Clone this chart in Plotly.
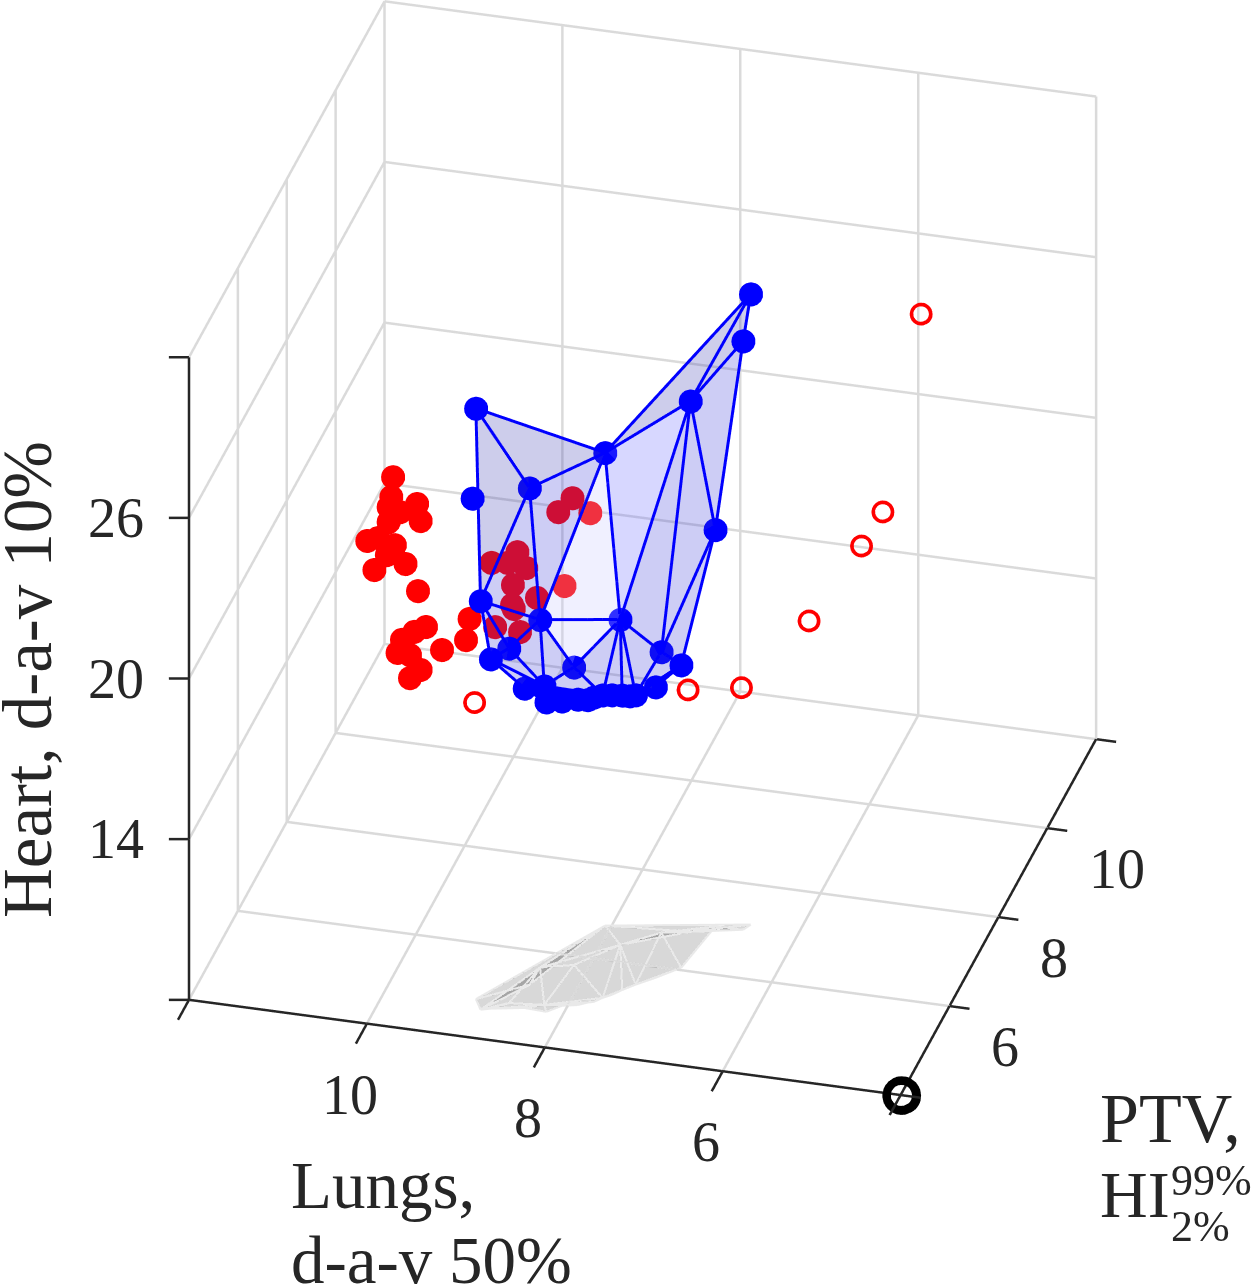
import plotly.graph_objects as go

# Pareto-front vertices (blue)
lungs = [6.55,6.60,7.14,8.07,9.00,8.52,9.02,6.91,8.89,8.51,7.80,8.17,7.44,7.03,8.63,8.79,7.24,8.25,8.44,8.19,8.06,7.90,7.81,7.75,7.68,7.60,7.52,7.46,7.41]
ptv   = [7.15,7.02,6.83,6.72,4.82,5.27,4.75,7.01,4.61,5.66,6.36,5.81,6.73,6.05,4.83,4.66,5.77,4.89,4.77,4.75,4.92,4.98,5.06,5.09,5.20,5.29,5.42,5.51,5.57]
heart = [31.55,29.99,27.82,25.66,30.06,26.55,26.81,22.82,23.27,20.99,20.15,19.12,18.49,19.31,21.25,21.06,18.86,19.91,19.94,19.57,19.38,19.42,19.31,19.38,19.31,19.20,19.01,18.86,18.82]

# triangles of the surface and their shade
tri_i = [0,3,4,0, 1,2,2,7,5,3, 2, 3,9, 8,8,9,9,10,11,10,10,12,13,14,15,17,17,17,17,17,17,24,26,10]
tri_j = [2,4,8,1, 2,7,10,12,8,5, 3, 9,10, 9,14,14,11,11,17,12,26,13,16,15,17,18,19,20,21,22,23,25,27,24]
tri_k = [3,5,5,2, 7,12,12,13,9,9, 10, 10,11, 14,15,17,17,24,24,28,28,28,28,17,18,19,20,21,22,23,24,26,28,26]
SLATE, MID, SKY, PALE = "rgb(55,55,175)", "rgb(55,55,215)", "rgb(95,95,255)", "rgb(195,195,255)"
tri_col = [SLATE]*4 + [MID]*6 + [SKY] + [PALE]*2 + [MID]*21

# Other plans (red, filled)
red_l = [10.67,10.69,10.72,10.40,10.59,10.36,10.72,10.96,10.84,10.65,10.74,10.53,10.88,10.39,10.30,10.43,10.57,10.62,10.48,10.12,10.36,10.48,9.81,9.85,
         8.79,8.95,8.59,9.70,9.41,9.52,9.31,9.46,8.88,9.19,9.47,9.45,9.66,9.38]
red_p = [7.5]*24 + [8.0]*14
red_z = [22.31,21.56,21.17,21.43,21.04,20.81,20.61,19.80,19.96,19.78,19.37,19.13,18.75,18.18,16.88,16.64,16.28,15.77,15.75,16.10,15.25,14.89,17.40,16.59,
         21.53,20.94,21.06,18.71,19.24,18.79,18.69,17.99,18.21,17.63,17.24,17.10,16.33,16.27]

# Outlying plans (red, open)
open_l = [5.15,5.58,5.82,6.41,7.17,7.77,10.17]
open_p = [9.0]*7
open_z = [28.36,20.78,19.40,16.34,13.51,13.16,11.62]

# Ideal point
ideal = (4, 4, 8)

xticks = [4,6,8,10,12]; yticks = [4,6,8,10,12]; zticks = [8,14,20,26,32]
xlabels = [6,8,10]; ylabels = [6,8,10]; zlabels = [14,20,26]

FONT = "Liberation Serif"; INK = "rgb(38,38,38)"; GRID = "rgb(218,218,218)"
XLO, XHI, YLO, YHI, ZLO, ZHI = xticks[0], xticks[-1], yticks[0], yticks[-1], zticks[0], zticks[-1]

def edges(xs, ys, zs):
    seen = set(); ex, ey, ez = [], [], []
    for a, b, c in zip(tri_i, tri_j, tri_k):
        for u, v in ((a,b),(b,c),(a,c)):
            key = (min(u,v), max(u,v))
            if key in seen: continue
            seen.add(key)
            ex += [xs[u], xs[v], None]; ey += [ys[u], ys[v], None]; ez += [zs[u], zs[v], None]
    return ex, ey, ez

def segs(items):
    ex, ey, ez = [], [], []
    for a, b in items:
        ex += [a[0], b[0], None]; ey += [a[1], b[1], None]; ez += [a[2], b[2], None]
    return ex, ey, ez

grid = []
for v in xticks:
    grid += [((v,YLO,ZLO),(v,YHI,ZLO)), ((v,YHI,ZLO),(v,YHI,ZHI))]
for v in yticks:
    grid += [((XLO,v,ZLO),(XHI,v,ZLO)), ((XHI,v,ZLO),(XHI,v,ZHI))]
for v in zticks:
    grid += [((XLO,YHI,v),(XHI,YHI,v)), ((XHI,YLO,v),(XHI,YHI,v))]
spine = [((XLO,YLO,ZLO),(XHI,YLO,ZLO)), ((XLO,YLO,ZLO),(XLO,YHI,ZLO)), ((XHI,YLO,ZLO),(XHI,YLO,ZHI))]
spine += [((v,YLO,ZLO),(v,YLO-0.45,ZLO)) for v in xticks]
spine += [((XLO,v,ZLO),(XLO-0.225,v,ZLO)) for v in yticks]
spine += [((XHI,YLO,v),(XHI+0.21,YLO-0.056,v)) for v in zticks]

floor = [ZLO]*len(lungs)
flat = dict(ambient=1, diffuse=0, specular=0, fresnel=0, roughness=1)
fig = go.Figure()
gx, gy, gz = segs(grid)
fig.add_trace(go.Scatter3d(x=gx, y=gy, z=gz, mode="lines", line=dict(color=GRID, width=5), hoverinfo="skip"))
fig.add_trace(go.Mesh3d(x=lungs, y=ptv, z=floor, i=tri_i, j=tri_j, k=tri_k, color="rgb(110,110,110)", opacity=0.27, flatshading=True, lighting=flat, hoverinfo="skip"))
sx, sy, sz = edges(lungs, ptv, floor)
fig.add_trace(go.Scatter3d(x=sx, y=sy, z=sz, mode="lines", line=dict(color="rgb(233,233,233)", width=4), hoverinfo="skip"))
ax, ay, az = segs(spine)
fig.add_trace(go.Scatter3d(x=ax, y=ay, z=az, mode="lines", line=dict(color=INK, width=5), hoverinfo="skip"))
fig.add_trace(go.Scatter3d(x=red_l, y=red_p, z=red_z, mode="markers", marker=dict(size=14, color="rgb(255,0,0)", line=dict(width=0))))
for s in (13, 12.5, 12, 11.5, 11):
    fig.add_trace(go.Scatter3d(x=open_l, y=open_p, z=open_z, mode="markers", marker=dict(size=s, symbol="circle-open", color="rgb(255,0,0)")))
fig.add_trace(go.Mesh3d(x=lungs, y=ptv, z=heart, i=tri_i, j=tri_j, k=tri_k, facecolor=tri_col, opacity=0.25, flatshading=True, lighting=flat, hoverinfo="skip"))
ex, ey, ez = edges(lungs, ptv, heart)
fig.add_trace(go.Scatter3d(x=ex, y=ey, z=ez, mode="lines", line=dict(color="rgb(0,0,255)", width=6), hoverinfo="skip"))
fig.add_trace(go.Scatter3d(x=lungs, y=ptv, z=heart, mode="markers", marker=dict(size=14, color="rgb(0,0,255)", line=dict(width=0))))
for s in (22, 21, 20, 19, 18, 17, 16, 15):
    fig.add_trace(go.Scatter3d(x=[ideal[0]], y=[ideal[1]], z=[ideal[2]], mode="markers", marker=dict(size=s, symbol="circle-open", color="black")))

def axis(rng):
    return dict(range=rng, visible=False, showticklabels=False, showgrid=False, zeroline=False, showbackground=False, showspikes=False, showline=False, ticks="", title=dict(text=""))

tick_font = dict(family=FONT, size=56, color=INK)
scene_ann = []
for v in xlabels:
    scene_ann.append(dict(x=v, y=YLO, z=ZLO, text=str(v), showarrow=False, font=tick_font, xanchor="center", yanchor="middle", xshift=-17, yshift=-71))
for v in ylabels:
    scene_ann.append(dict(x=XLO, y=v, z=ZLO, text=str(v), showarrow=False, font=tick_font, xanchor="left", yanchor="middle", xshift=40, yshift=-41))
for v in zlabels:
    scene_ann.append(dict(x=XHI, y=YLO, z=v, text=str(v), showarrow=False, font=tick_font, xanchor="right", yanchor="middle", xshift=-43, yshift=0))

e = (0.2276, -0.8394, 0.4936); dist = 2.0
c = (-0.00484, -0.0774, -0.1294)
fig.update_layout(
    width=1253, height=1288, margin=dict(l=0, r=0, t=0, b=0), paper_bgcolor="white", showlegend=False,
    scene=dict(domain=dict(x=[0,1], y=[0,1]), xaxis=axis([12.5,3.5]), yaxis=axis([3.5,12.5]), zaxis=axis([7,33]),
               aspectmode="manual", aspectratio=dict(x=1.288, y=1.305, z=1.243), annotations=scene_ann,
               camera=dict(projection=dict(type="orthographic"), up=dict(x=0,y=0,z=1), center=dict(x=c[0],y=c[1],z=c[2]),
                           eye=dict(x=c[0]+dist*e[0], y=c[1]+dist*e[1], z=c[2]+dist*e[2]))),
)
def txt(text, px, py, size, **kw):
    fig.add_annotation(xref="paper", yref="paper", x=px/1253, y=1-py/1288, text=text, showarrow=False, font=dict(family=FONT, size=size, color=INK), **kw)
txt("Heart, d-a-v 10%", 28, 680, 69, textangle=-90, xanchor="center", yanchor="middle")
txt("Lungs,", 289, 1185, 67, xanchor="left", yanchor="middle")
txt("d-a-v 50%", 289, 1260, 67, xanchor="left", yanchor="middle")
txt("PTV,", 1098, 1118, 70, xanchor="left", yanchor="middle")
txt("HI", 1098, 1194, 66, xanchor="left", yanchor="middle")
txt("99%", 1169, 1180, 44, xanchor="left", yanchor="middle")
txt("2%", 1169, 1226, 44, xanchor="left", yanchor="middle")
fig.write_html("out.html", post_script="document.body.style.margin='0';", config=dict(displayModeBar=False))
